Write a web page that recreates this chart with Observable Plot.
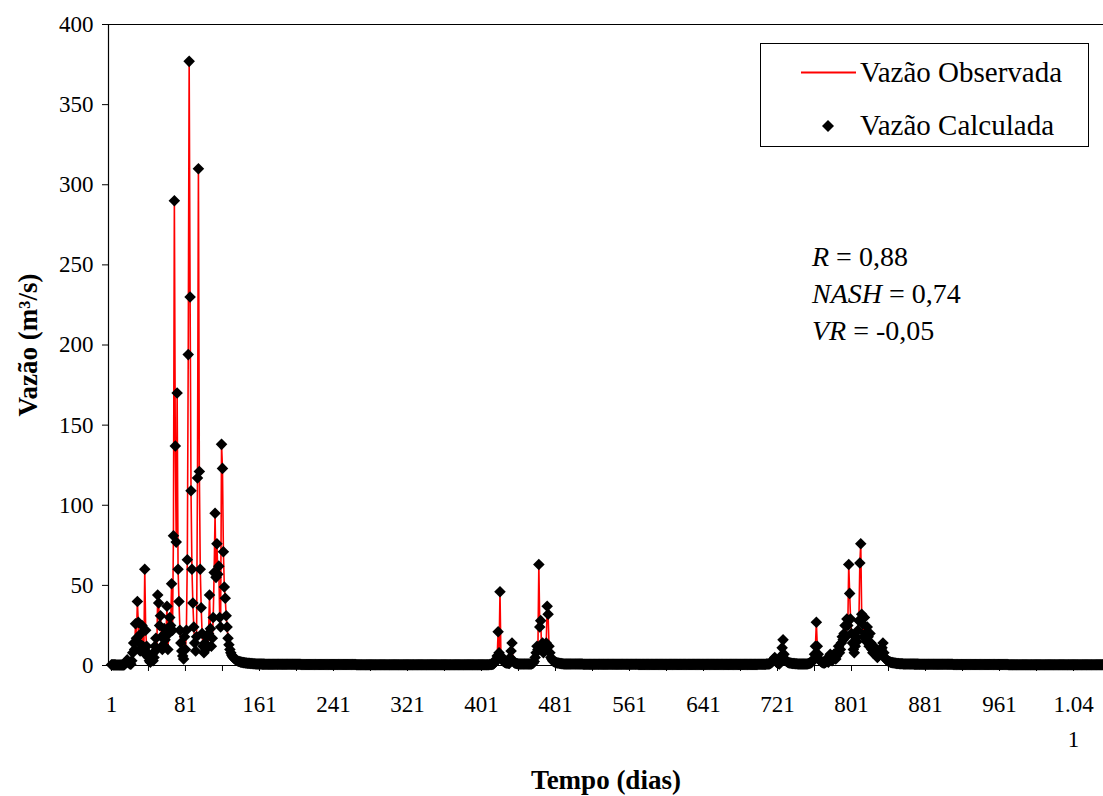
<!DOCTYPE html>
<html>
<head>
<meta charset="utf-8">
<script src="https://cdn.jsdelivr.net/npm/d3@7"></script>
<script src="https://cdn.jsdelivr.net/npm/@observablehq/plot@0.6"></script>
<style>
  html, body { margin: 0; padding: 0; background: #fff; overflow: hidden; }
  #wrap { position: relative; width: 1103px; height: 796px; font-family: "Liberation Serif", "Times New Roman", serif; }
  #legend { position: absolute; left: 760px; top: 43px; width: 329px; height: 104px; border: 1px solid #000; background: #fff; box-sizing: border-box; }
  .lg { position: absolute; left: 99px; font-size: 29px; line-height: 29px; color: #000; white-space: nowrap; }
  #stats { position: absolute; left: 812px; top: 238px; font-size: 28px; line-height: 37px; color: #000; white-space: nowrap; }
</style>
</head>
<body>
<div id="wrap"></div>
<script>
// ---- Data ----
// Daily discharge, active periods written day by day
const period1Start = 1;
const period1 = [
  0.5,0.5,0.4,0.4,0.4,0.3,0.3,0.3,0.3,0.3,
  0.3,0.3,0.3,0.3,0.5,1.2,2.5,3.5,2,1.5,
  1,0.8,3,8,14,10,26,17,40,27,
  14,9,20,25,12,8,60,22,12,8,
  5,3,2,4,7,3,5,12,17,10,
  44,39,25,31,18,10,13,23,16,20,
  37,10,20,30,25,51,22,81,290,137,
  77,170,60,40,22,14,9,6,4,18,
  10,22,66,194,377,230,109,60,39,24,
  14,9,18,117,310,121,60,36,20,12,
  8,14,10,18,12,20,44,23,12,17,
  30,58,95,55,76,57,62,30,24,138,
  123,71,49,42,31,24,17,13,10,8,
  6.5,5.5,4.8,4.2,3.7,3.3,3,2.7,2.5,2.3,
  2.1,2,1.9,1.8,1.7,1.6,1.5,1.45,1.4,1.35,
  1.3,1.25,1.2,1.15,1.1,1.05,1,1,0.95,0.95,
  0.9,0.9,0.9,0.85,0.85,0.85,0.8,0.8,0.8,0.8,
  0.8,0.8,0.8,0.8,0.8
];
const period2Start = 410;
const period2 = [
  0.6,0.6,0.7,0.8,1,1.5,2.5,4,6,21,
  8,46,6,4,3,2.5,2,1.8,1.6,1.5,
  1.4,1.3,5,9,14,3,2,1.6,1.4,1.2,
  1.1,1,1,0.95,0.95,0.9,0.9,0.9,0.9,0.9,
  0.9,0.9,0.9,0.9,0.9,1,1.2,1.5,2.5,5,
  8,12,10,63,24,28,11,14,8,12,
  10,14,37,32,12,8,5,4,3,2.5,
  2.2,2,1.8,1.6,1.5,1.4,1.3,1.2,1.1,1.05,
  1
];
const period3Start = 700;
const period3 = [
  0.8,0.8,0.8,0.8,0.8,0.8,0.8,0.8,0.8,0.9,
  0.9,1,1,1.2,1.5,2,3,4,5,3,
  2,1.5,1.2,1,2,6,11,16,7,4,
  3,2.5,2,1.8,1.6,1.5,1.4,1.3,1.2,1.2,
  1.1,1.1,1.1,1,1,1,1,1,1,1,
  1,1,1,1,1.1,1.2,1.4,1.6,2,3,
  4,7,12,27,12,7,4,3,2.5,2,
  1.8,1.6,1.5,2,4,2.5,2,4,7,5,
  3,5,7,5,4,6,9,12,8,10,
  14,18,16,20,25,18,29,25,63,45,
  29,20,14,10,8,12,18,15,22,28,
  64,76,32,26,18,30,20,15,24,18,
  12,20,14,10,8,12,9,7,6,5,
  6,8,10,10,11,14,8,5,4,3.5,
  3,2.6,2.3,2.1,1.9,1.8,1.7,1.6,1.5,1.4,
  1.3,1.25,1.2,1.15,1.1,1.1,1.05,1,1,1,
  1,0.95,0.95,0.95,0.9,0.9,0.9,0.9,0.9,0.85,
  0.85,0.85,0.85,0.85,0.8,0.8,0.8,0.8,0.8,0.8,0.8
];
// Quiet stretches between events: [first day, number of days, discharge]
const baseflowRuns = [
  [176, 30, 0.75], [206, 60, 0.6], [266, 144, 0.5],
  [491, 20, 0.95], [511, 60, 0.8], [571, 129, 0.7],
  [881, 30, 0.75], [911, 60, 0.6], [971, 105, 0.5]
];
// Calculated series read as sitting on the observed values
const calculatedDiffers = []; // [day, value] pairs where the diamond leaves the red line (none visible)

const yTicks = [0, 50, 100, 150, 200, 250, 300, 350, 400];
const xTickValues = [1, 81, 161, 241, 321, 401, 481, 561, 641, 721, 801, 881, 961, 1041];
const xTickLabels = ["1","81","161","241","321","401","481","561","641","721","801","881","961","1.04\n1"];
const xMinorTicks = [41, 121, 201, 281, 361, 441, 521, 601, 681, 761, 841, 921, 1001];
const xDomain = [-2.2, 1073.4];
const yDomain = [0, 400];
const xTitle = "Tempo (dias)";
const yTitle = "Vazão (m³/s)";
const seriesObs = "Vazão Observada";
const seriesCalc = "Vazão Calculada";

// ---- Build table ----
const table = new Map();
function addSeg(start, vals) { vals.forEach((v, i) => table.set(start + i, v)); }
addSeg(period1Start, period1);
addSeg(period2Start, period2);
addSeg(period3Start, period3);
for (const [s, n, v] of baseflowRuns) for (let i = 0; i < n; i++) table.set(s + i, v);
const calcMap = new Map(calculatedDiffers);
const data = [...table.entries()].sort((a, b) => a[0] - b[0])
  .map(([day, obs]) => ({day, obs, calc: calcMap.has(day) ? calcMap.get(day) : obs}));

const labelOf = new Map(xTickValues.map((v, i) => [v, xTickLabels[i]]));

const chart = Plot.plot({
  width: 1103,
  height: 796,
  marginLeft: 108,
  marginRight: 0,
  marginTop: 24,
  marginBottom: 131,
  style: {fontFamily: "'Liberation Serif', 'Times New Roman', serif", color: "#000", background: "#fff", overflow: "visible"},
  x: {domain: xDomain},
  y: {domain: yDomain},
  marks: [
    Plot.ruleY([yDomain[1]], {stroke: "#000", strokeWidth: 1}),
    Plot.lineY(data, {x: "day", y: "obs", stroke: "#ff0000", strokeWidth: 1.6}),
    Plot.dot(data, {x: "day", y: "calc", symbol: "diamond2", fill: "#000", r: 5.2}),
    Plot.ruleX([xDomain[0]], {stroke: "#000", strokeWidth: 1.2}),
    Plot.ruleY([0], {stroke: "#000", strokeWidth: 1.2}),
    Plot.axisY({ticks: yTicks, tickSize: 6, tickPadding: 9, fontSize: 23, label: null, tickFormat: d => String(d)}),
    Plot.axisX({ticks: xTickValues, tickSize: 6, tickPadding: 15, fontSize: 23, lineHeight: 1.55, label: null, tickFormat: d => labelOf.get(d)}),
    Plot.axisX({ticks: xMinorTicks, tickSize: 6, label: null, tickFormat: () => ""}),
    Plot.text([xTitle], {frameAnchor: "bottom", dy: 123, fontSize: 27, fontWeight: "bold", text: d => d}),
    Plot.text([yTitle], {frameAnchor: "left", textAnchor: "middle", dx: -80, rotate: -90, fontSize: 27, fontWeight: "bold", text: d => d})
  ]
});

const wrap = document.getElementById("wrap");
wrap.appendChild(chart);

// Legend (inside plot area)
const lg = document.createElement("div");
lg.id = "legend";
lg.innerHTML = `
  <svg width="100" height="104" style="position:absolute;left:0;top:0">
    <line x1="40" x2="95" y1="28.5" y2="28.5" stroke="#ff0000" stroke-width="2"></line>
    <path d="M67,76 l6,6 l-6,6 l-6,-6 z" fill="#000"></path>
  </svg>
  <div class="lg" style="top:14px">${seriesObs}</div>
  <div class="lg" style="top:67px">${seriesCalc}</div>`;
wrap.appendChild(lg);

// Statistics
const st = document.createElement("div");
st.id = "stats";
st.innerHTML = `<div><i>R</i> = 0,88</div><div><i>NASH</i> = 0,74</div><div><i>VR</i> = -0,05</div>`;
wrap.appendChild(st);
</script>
</body>
</html>
